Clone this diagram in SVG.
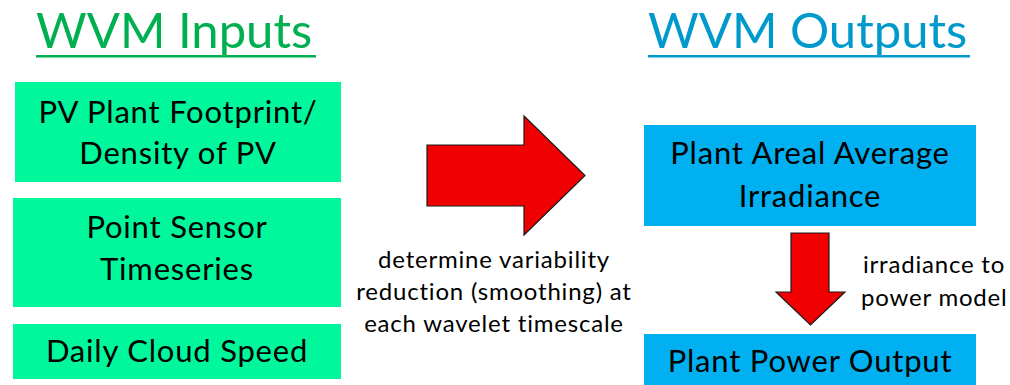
<svg xmlns="http://www.w3.org/2000/svg" width="1010" height="385" viewBox="0 0 1010 385">
  <style>
    .title { font-family: Lato, "Open Sans", sans-serif; font-size: 49px; }
    .box-in { fill: #00F79C; }
    .box-out { fill: #00B0F0; }
    .label { font-family: Lato, "Open Sans", sans-serif; font-size: 31px; letter-spacing: 0.8px; fill: #000; text-anchor: middle; }
    .note { font-family: Lato, "Open Sans", sans-serif; font-size: 24px; letter-spacing: 0.8px; fill: #000; }
    .arrow { fill: #F00000; stroke: #1a1a1a; stroke-width: 1.2; stroke-linejoin: miter; }
  </style>

  <!-- Headings -->
  <g id="heading-inputs">
    <text class="title" x="36" y="48" fill="#00B050">WVM Inputs</text>
    <rect x="36" y="55" width="280" height="2.5" fill="#00B050"/>
  </g>
  <g id="heading-outputs">
    <text class="title" x="648" y="48" fill="#0099CC">WVM Outputs</text>
    <rect x="648" y="55" width="322" height="2.5" fill="#0099CC"/>
  </g>

  <!-- Input nodes -->
  <g id="input-footprint">
    <rect class="box-in" x="15" y="82" width="326" height="100"/>
    <text class="label" x="178" y="123">PV Plant Footprint/</text>
    <text class="label" x="178" y="164">Density of PV</text>
  </g>
  <g id="input-sensor">
    <rect class="box-in" x="13" y="198" width="328" height="109"/>
    <text class="label" x="177" y="238">Point Sensor</text>
    <text class="label" x="177" y="280">Timeseries</text>
  </g>
  <g id="input-cloud-speed">
    <rect class="box-in" x="13" y="324" width="328" height="55"/>
    <text class="label" x="177" y="362">Daily Cloud Speed</text>
  </g>

  <!-- Output nodes -->
  <g id="output-irradiance">
    <rect class="box-out" x="644" y="125" width="332" height="101"/>
    <text class="label" x="810" y="164">Plant Areal Average</text>
    <text class="label" x="810" y="207">Irradiance</text>
  </g>
  <g id="output-power">
    <rect class="box-out" x="644" y="334" width="332" height="51"/>
    <text class="label" x="810" y="372">Plant Power Output</text>
  </g>

  <!-- Connectors -->
  <g id="connectors">
    <polygon class="arrow" points="427,145 524,145 524,116 585,175.5 524,235 524,206 427,206"/>
    <text class="note" text-anchor="middle" x="494" y="268">determine variability</text>
    <text class="note" text-anchor="middle" x="494" y="300">reduction (smoothing) at</text>
    <text class="note" text-anchor="middle" x="494" y="332">each wavelet timescale</text>

    <polygon class="arrow" points="791,233 829,233 829,292 845,292 810.5,325 776,292 791,292"/>
    <text class="note" x="863" y="273">irradiance to</text>
    <text class="note" x="861" y="306">power model</text>
  </g>
</svg>
